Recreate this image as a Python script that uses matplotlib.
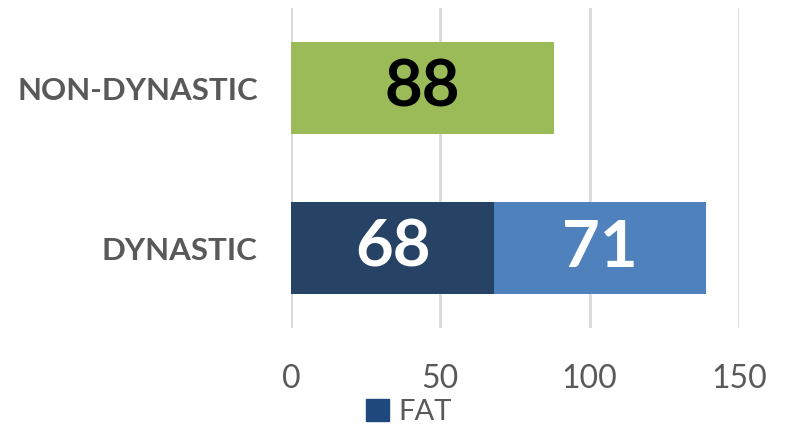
import matplotlib.pyplot as plt
from matplotlib.patches import Patch

plt.rcParams['font.family'] = ['Lato', 'DejaVu Sans']

categories = ['DYNASTIC', 'NON-DYNASTIC']
fat = [68, 0]
other = [71, 0]
non_dyn = [0, 88]
xticks = [0, 50, 100, 150]

c_fat = '#264264'
c_other = '#4f81bd'
c_non = '#9bbb59'
grey = '#595959'

fig = plt.figure(figsize=(7.86, 4.24), dpi=100)
ax = fig.add_axes([0.3702, 0.2264, 0.570, 0.7546])

y = list(range(len(categories)))
h = 0.58
b1 = ax.barh(y, fat, height=h, color=c_fat, label='FAT', zorder=3)
left2 = fat
b2 = ax.barh(y, other, left=left2, height=h, color=c_other, zorder=3)
left3 = [a + b for a, b in zip(fat, other)]
b3 = ax.barh(y, non_dyn, left=left3, height=h, color=c_non, zorder=3)

for bars, col in [(b1, 'white'), (b2, 'white'), (b3, 'black')]:
    labels = [f'{v:g}' if v else '' for v in bars.datavalues]
    ax.bar_label(bars, labels=labels, label_type='center', color=col,
                 fontsize=47, fontweight='bold')

ax.set_xlim(0, 150)
ax.set_ylim(-0.5, 1.5)
ax.set_xticks(xticks)
ax.set_yticks(y)
ax.set_yticklabels(categories, fontsize=22.5, fontweight='bold', color=grey)
ax.tick_params(axis='x', labelsize=23, labelcolor=grey, length=0, pad=26)
ax.tick_params(axis='y', length=0, pad=24)
ax.grid(axis='x', color='#d9d9d9', linewidth=2, zorder=0)
for s in ax.spines.values():
    s.set_visible(False)

fig.legend(handles=[Patch(color='#1f497d', label='FAT')], loc='lower center',
           bbox_to_anchor=(0.52, -0.065), frameon=False, fontsize=21,
           handlelength=0.8, handleheight=0.8, handletextpad=0.3,
           labelcolor=grey)

fig.savefig('out.png', dpi=100)
